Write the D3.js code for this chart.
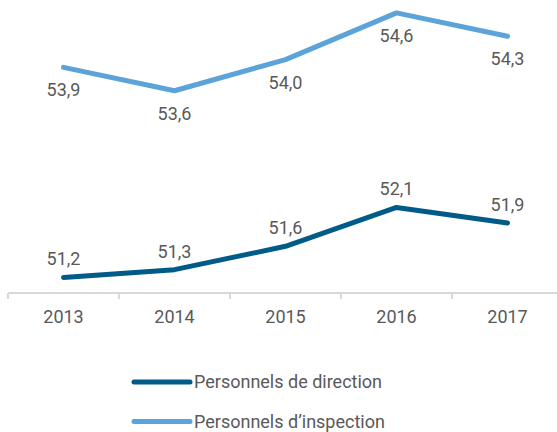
<!DOCTYPE html>
<html>
<head>
<meta charset="utf-8">
<script src="https://cdn.jsdelivr.net/npm/d3@7"></script>
<style>
  body { margin: 0; background: #fff; }
  svg text { font-family: Roboto, "Noto Sans", sans-serif; fill: #595959; }
</style>
</head>
<body>
<svg id="chart"></svg>
<script>
// Données
const years = ["2013", "2014", "2015", "2016", "2017"];
const direction = [51.2, 51.3, 51.6, 52.1, 51.9];
const inspection = [53.9, 53.6, 54.0, 54.6, 54.3];
const seriesNames = ["Personnels de direction", "Personnels d\u2019inspection"];
const colors = ["#005b89", "#5ba3d9"];

const width = 557;
const height = 432;
const axisY = 293;

const svg = d3.select("#chart")
    .attr("width", width)
    .attr("height", height);

// Echelles
const x = d3.scaleBand()
    .domain(years)
    .range([8, 563]);

const y = d3.scaleLinear()
    .domain([51, 55])
    .range([axisY, axisY - 4 * 77.8]);

// Axe X
const xAxis = svg.append("g")
    .attr("transform", `translate(0, ${axisY})`);

xAxis.append("line")
    .attr("x1", 8).attr("x2", width)
    .attr("stroke", "#d9d9d9").attr("stroke-width", 2);

xAxis.selectAll(".tick")
    .data(years)
    .enter()
    .append("line")
    .attr("x1", d => x(d)).attr("x2", d => x(d))
    .attr("y1", 0).attr("y2", 6)
    .attr("stroke", "#d9d9d9").attr("stroke-width", 2);

xAxis.selectAll(".lbl")
    .data(years)
    .enter()
    .append("text")
    .attr("x", d => x(d) + x.bandwidth() / 2)
    .attr("y", 30)
    .attr("text-anchor", "middle")
    .style("font-size", "18px")
    .text(d => d);

// Lignes
const line = d3.line()
    .x((d, i) => x(years[i]) + x.bandwidth() / 2)
    .y(d => y(d));

const series = [
    { name: seriesNames[0], values: direction, color: colors[0], dy: -12 },
    { name: seriesNames[1], values: inspection, color: colors[1], dy: 29 }
];

series.forEach(s => {
    svg.append("path")
        .datum(s.values)
        .attr("d", line)
        .attr("fill", "none")
        .attr("stroke", s.color)
        .attr("stroke-width", 5)
        .attr("stroke-linecap", "round")
        .attr("stroke-linejoin", "round");

    svg.selectAll(null)
        .data(s.values)
        .enter()
        .append("text")
        .attr("x", (d, i) => x(years[i]) + x.bandwidth() / 2)
        .attr("y", d => y(d) + s.dy)
        .attr("text-anchor", "middle")
        .style("font-size", "18px")
        .text(d => d.toFixed(1).replace(".", ","));
});

// Légende
const legend = svg.selectAll(".legend")
    .data(series)
    .enter()
    .append("g")
    .attr("transform", (d, i) => `translate(134, ${382 + i * 39.5})`);

legend.append("line")
    .attr("x1", 0).attr("x2", 56)
    .attr("stroke", d => d.color)
    .attr("stroke-width", 5)
    .attr("stroke-linecap", "round");

legend.append("text")
    .attr("x", 60)
    .attr("y", 6)
    .style("font-size", "18px")
    .text(d => d.name);
</script>
</body>
</html>
